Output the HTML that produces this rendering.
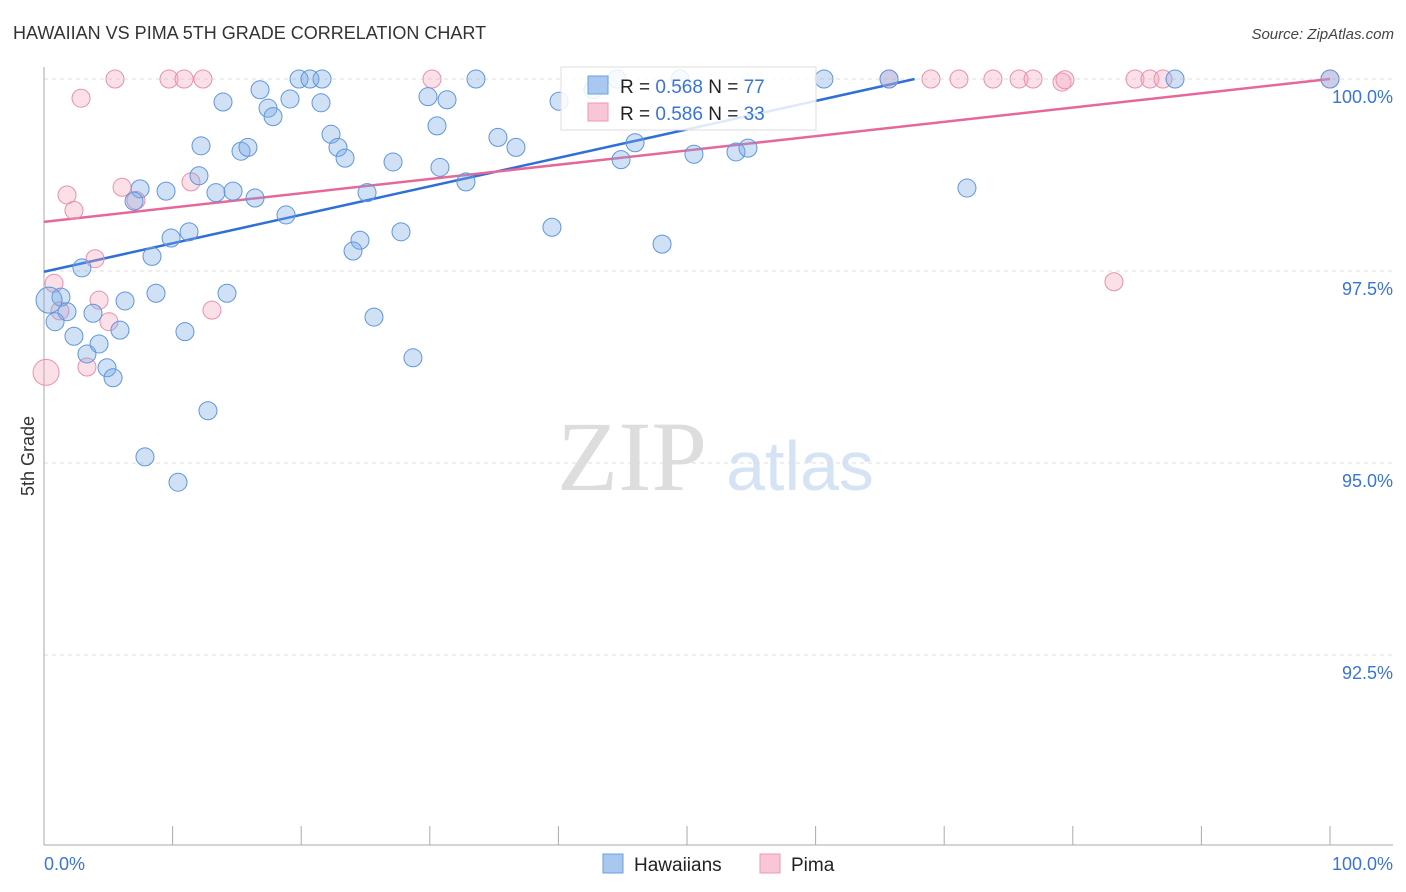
<!DOCTYPE html>
<html><head><meta charset="utf-8"><style>
body{margin:0;background:#fff;font-family:"Liberation Sans",sans-serif;}
</style></head><body>
<svg id="chart" width="1406" height="892" xmlns="http://www.w3.org/2000/svg" style="display:block">
<text x="13" y="39" font-size="18" fill="#333" font-family="Liberation Sans, sans-serif">HAWAIIAN VS PIMA 5TH GRADE CORRELATION CHART</text>
<text x="1394" y="39" font-size="15" fill="#444" text-anchor="end" font-style="italic">Source: ZipAtlas.com</text>
<g><text x="632" y="490" font-size="100" fill="#ddd" text-anchor="middle" font-family="Liberation Serif, serif">ZIP</text><text x="800" y="490" font-size="70" fill="#d5e3f5" text-anchor="middle">atlas</text></g>
<g id="grid"></g><g id="axes"></g><g id="lines"></g><g id="pts"></g>
<text transform="translate(34,456) rotate(-90)" font-size="18" fill="#333" text-anchor="middle">5th Grade</text>
<g>
<rect x="561" y="67" width="255" height="63" fill="#fff" fill-opacity="0.85" stroke="#ddd"/>
<rect x="588" y="76" width="20" height="18" fill="#a9c8f0" stroke="#6a9fe0"/>
<text x="620" y="93" font-size="19" fill="#222">R = <tspan fill="#3a74d6">0.568</tspan>   N = <tspan fill="#3a74d6">77</tspan></text>
<rect x="588" y="103" width="20" height="18" fill="#f8c6d6" stroke="#ec98b4"/>
<text x="620" y="120" font-size="19" fill="#222">R = <tspan fill="#3a74d6">0.586</tspan>   N = <tspan fill="#3a74d6">33</tspan></text>
</g>
<g>
<rect x="603" y="854" width="20" height="19" fill="#a9c8f0" stroke="#6a9fe0"/><text x="634" y="871" font-size="19" fill="#222">Hawaiians</text>
<rect x="760" y="854" width="20" height="19" fill="#f8c6d6" stroke="#ec98b4"/><text x="791" y="871" font-size="19" fill="#222">Pima</text>
</g>
</svg>
<script>
const yTicks=[100,97.5,95,92.5];
const yTickLabels=["100.0%","97.5%","95.0%","92.5%"];
const xTickLabels=["0.0%","100.0%"];
const blueX=[19.83,20.68,21.62,33.59,60.65,65.71,87.95,100,44.56,49.46,42.69,13.92,19.13,21.54,16.8,17.42,17.81,29.86,31.34,40.05,12.21,15.32,15.86,22.32,22.86,23.41,30.56,35.3,36.7,27.14,30.79,44.87,45.96,50.54,53.81,54.74,12.05,7.47,9.49,13.37,14.7,7.0,16.41,25.12,32.81,71.77,18.82,11.28,9.88,8.4,24.57,24.03,27.76,39.5,48.06,2.95,1.32,8.71,14.23,6.3,1.79,3.81,0.86,5.91,2.33,10.96,25.66,4.28,3.34,4.9,5.37,28.69,12.75,7.85,10.42,0.39];
const blueY=[100,100,100,100,100,100,100,100,100,100,99.86,99.7,99.74,99.69,99.86,99.62,99.51,99.77,99.73,99.71,99.13,99.06,99.11,99.28,99.11,98.97,99.39,99.24,99.11,98.92,98.85,98.95,99.17,99.02,99.05,99.1,98.74,98.57,98.54,98.52,98.54,98.41,98.45,98.52,98.66,98.58,98.23,98.01,97.93,97.69,97.9,97.76,98.01,98.07,97.85,97.54,97.16,97.21,97.21,97.11,96.97,96.95,96.84,96.73,96.65,96.71,96.9,96.55,96.42,96.24,96.11,96.37,95.68,95.08,94.75,97.12];
const pinkX=[5.52,9.72,10.89,12.36,30.17,65.71,68.97,71.15,73.79,75.82,76.91,79.16,79.39,84.84,86.0,87.01,100,2.88,1.79,2.33,6.07,7.15,11.43,3.97,0.78,4.28,13.06,1.24,5.05,3.34,0.16,83.2];
const pinkY=[100,100,100,100,100,100,100,100,100,100,100,99.96,99.99,100,100,100,100,99.75,98.49,98.29,98.59,98.42,98.66,97.66,97.34,97.12,96.99,96.98,96.84,96.25,96.18,97.36];
const blueTrendX=[0,67.7], blueTrendY=[97.49,100];
const pinkTrendX=[0,100], pinkTrendY=[98.14,100];
const X0=44,X1=1330,Y100=79,PXPER=76.8;
const sx=v=>X0+(X1-X0)*v/100, sy=v=>Y100+(100-v)*PXPER;
const NS="http://www.w3.org/2000/svg";
function mk(p,t,a){const e=document.createElementNS(NS,t);for(const k in a)e.setAttribute(k,a[k]);p.appendChild(e);return e;}
const grid=document.getElementById('grid'),axes=document.getElementById('axes');
yTicks.forEach((t,i)=>{
 const g=mk(grid,'line',{x1:44,x2:1393,y1:sy(t),y2:sy(t),stroke:'#ddd','stroke-dasharray':'4,4'});
 
 
 const l=mk(axes,'text',{x:1393,y:sy(t)+24,'font-size':18,fill:'#3a74d6','text-anchor':'end'});
 l.textContent=yTickLabels[i];
 
 
});
const ax=mk(axes,'line',{x1:44,x2:44,y1:67,y2:845,stroke:'#aaa'});


const bx=mk(axes,'line',{x1:44,x2:1393,y1:845,y2:845,stroke:'#aaa'});


for(let i=0;i<=10;i++){const t=mk(axes,'line',{x1:sx(i*10),x2:sx(i*10),y1:826,y2:845,stroke:'#aaa'});
 
 }
[[0,'start',44],[100,'end',1393]].forEach((d,i)=>{const l=mk(axes,'text',{x:d[2],y:870,'font-size':18,fill:'#3a74d6','text-anchor':d[1]});l.textContent=xTickLabels[i];
 
 });
const pts=document.getElementById('pts');
function dots(xs,ys,fill,stroke,name){xs.forEach((x,i)=>{const c=mk(pts,'circle',{cx:sx(x),cy:sy(ys[i]),r:(x<0.5?13:9),fill:fill,stroke:stroke,'stroke-width':1});
 
 });}
dots(pinkX,pinkY,'rgba(245,165,190,0.35)','#ea8fae','pima-point');
dots(blueX,blueY,'rgba(120,168,230,0.35)','#5f96de','hawaiian-point');
const lines=document.getElementById('lines');
const bl=mk(lines,'line',{x1:sx(blueTrendX[0]),y1:sy(blueTrendY[0]),x2:sx(blueTrendX[1]),y2:sy(blueTrendY[1]),stroke:'#2f6fd6','stroke-width':2.5});


const pl=mk(lines,'line',{x1:sx(pinkTrendX[0]),y1:sy(pinkTrendY[0]),x2:sx(pinkTrendX[1]),y2:sy(pinkTrendY[1]),stroke:'#e5689a','stroke-width':2.5});


</script>
</body></html>
